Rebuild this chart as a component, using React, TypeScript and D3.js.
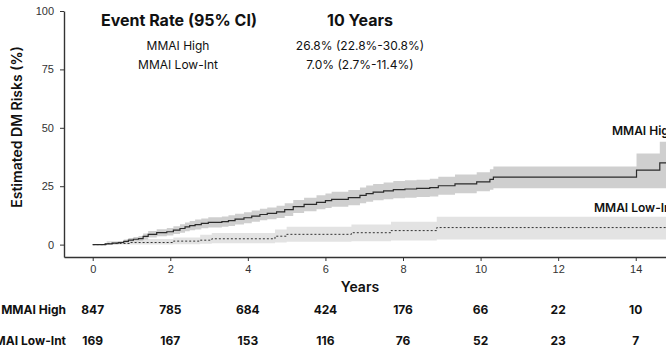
import React, { useEffect, useRef } from 'react';
import * as d3 from 'd3';

// Kaplan-Meier style cumulative incidence (percent)
const highTime = [0, 0.32, 0.5, 0.66, 0.8, 0.92, 1.05, 1.18, 1.3, 1.43, 1.65, 1.91, 2.08, 2.25, 2.38, 2.5, 2.64, 2.8, 2.98, 3.33, 3.5, 3.67, 3.9, 4.1, 4.31, 4.5, 4.74, 4.95, 5.17, 5.45, 5.77, 6.0, 6.16, 6.59, 6.89, 7.05, 7.23, 7.5, 7.75, 8.05, 8.35, 8.69, 8.91, 9.34, 9.9, 10.24, 10.33, 14.02, 14.62, 15.6];
const highEst = [0, 0.3, 0.6, 0.9, 1.4, 1.9, 2.3, 2.6, 3.5, 4.4, 5.1, 5.5, 6.2, 6.9, 7.6, 8.1, 8.6, 9.1, 9.5, 9.8, 10.3, 10.9, 11.5, 12.2, 12.9, 13.4, 14.0, 15.0, 16.3, 17.2, 18.1, 18.8, 19.4, 20.1, 21.1, 21.8, 22.5, 23.0, 23.5, 23.8, 24.1, 24.4, 25.2, 26.0, 26.9, 27.9, 28.9, 31.9, 35.0, 35.0];
const highLower = [0, 0, 0.1, 0.3, 0.6, 1.0, 1.3, 1.5, 2.2, 3.0, 3.6, 3.9, 4.5, 5.1, 5.7, 6.1, 6.5, 7.0, 7.3, 7.6, 8.0, 8.6, 9.1, 9.8, 10.4, 10.9, 11.4, 12.3, 13.5, 14.3, 15.1, 15.7, 16.2, 16.8, 17.7, 18.3, 19.0, 19.4, 19.8, 20.1, 20.4, 20.6, 21.3, 22.0, 22.8, 23.5, 24.1, 24.1, 24.1, 24.1];
const highUpper = [0, 0.7, 1.1, 1.5, 2.2, 2.8, 3.3, 3.7, 4.8, 5.8, 6.6, 7.1, 7.9, 8.7, 9.5, 10.1, 10.7, 11.2, 11.7, 12.0, 12.6, 13.2, 13.9, 14.6, 15.4, 15.9, 16.6, 17.7, 19.1, 20.1, 21.1, 21.9, 22.6, 23.4, 24.5, 25.3, 26.0, 26.6, 27.2, 27.5, 27.8, 28.2, 29.1, 30.0, 31.0, 32.3, 33.4, 39.0, 44.0, 44.0];

const lowTime = [0, 0.36, 0.96, 2.08, 2.77, 3.07, 4.7, 5.0, 6.67, 7.69, 8.87, 15.6];
const lowEst = [0, 0.5, 0.9, 1.5, 1.9, 2.5, 3.6, 4.4, 5.1, 6.0, 7.3, 7.3];
const lowLower = [0, 0, 0, 0.2, 0.4, 0.6, 0.9, 1.2, 1.4, 1.8, 2.2, 2.2];
const lowUpper = [0, 1.5, 2.4, 3.0, 4.2, 5.0, 6.5, 7.6, 8.6, 9.8, 11.9, 11.9];

const riskTimes = [0, 2, 4, 6, 8, 10, 12, 14];
const riskHigh = [847, 785, 684, 424, 176, 66, 22, 10];
const riskLow = [169, 167, 153, 116, 76, 52, 23, 7];

const yTicks = [0, 25, 50, 75, 100];
const xTicks = [0, 2, 4, 6, 8, 10, 12, 14];

const tableRows = [
  { group: 'MMAI High', rate: '26.8% (22.8%-30.8%)' },
  { group: 'MMAI Low-Int', rate: '7.0% (2.7%-11.4%)' },
];

const W = 666;
const H = 349;
const sansHead = 'Inter, "Open Sans", sans-serif';
const sansTick = '"Liberation Sans", Arial, sans-serif';

type Pt = { t: number; e: number; lo: number; hi: number };
const zipCurve = (t: number[], e: number[], lo: number[], hi: number[]): Pt[] =>
  t.map((d, i) => ({ t: d, e: e[i], lo: lo[i], hi: hi[i] }));

const App: React.FC = () => {
  const svgRef = useRef<SVGSVGElement>(null);

  useEffect(() => {
    if (svgRef.current === null) return;
    const svg = d3.select(svgRef.current);
    svg.selectAll('*').remove();

    const x = d3.scaleLinear().domain([-0.74, 14.78]).range([64, 666]);
    const y = d3.scaleLinear().domain([-5.3, 100]).range([257, 11]);

    const high = zipCurve(highTime, highEst, highLower, highUpper);
    const low = zipCurve(lowTime, lowEst, lowLower, lowUpper);

    const area = d3
      .area<Pt>()
      .curve(d3.curveStepAfter)
      .x((d) => x(d.t))
      .y0((d) => y(d.lo))
      .y1((d) => y(d.hi));
    const line = d3
      .line<Pt>()
      .curve(d3.curveStepAfter)
      .x((d) => x(d.t))
      .y((d) => y(d.e));

    // confidence bands
    svg.append('path').datum(low).attr('d', area).attr('fill', '#e3e3e3');
    svg.append('path').datum(high).attr('d', area).attr('fill', '#cfcfcf');

    // estimates
    svg
      .append('path')
      .datum(low)
      .attr('d', line)
      .attr('fill', 'none')
      .attr('stroke', '#333')
      .attr('stroke-width', 1)
      .attr('stroke-dasharray', '2,2');
    svg
      .append('path')
      .datum(high)
      .attr('d', line)
      .attr('fill', 'none')
      .attr('stroke', '#2b2b2b')
      .attr('stroke-width', 1.2);

    // axes
    const gx = svg
      .append('g')
      .attr('transform', `translate(0,${y(-5.3)})`)
      .call(d3.axisBottom(x).tickValues(xTicks).tickSize(4).tickSizeOuter(0).tickPadding(4));
    const gy = svg
      .append('g')
      .attr('transform', `translate(${x(-0.74)},0)`)
      .call(d3.axisLeft(y).tickValues(yTicks).tickSize(4).tickSizeOuter(0).tickPadding(6));
    [gx, gy].forEach((g) => {
      g.select('.domain').attr('stroke', '#333').attr('stroke-width', 1.4);
      g.selectAll('.tick line').attr('stroke', '#333');
      g.selectAll('.tick text')
        .attr('fill', '#333')
        .style('font-family', sansTick)
        .style('font-size', '11px');
    });

    // axis titles
    svg
      .append('text')
      .attr('x', 360)
      .attr('y', 292)
      .attr('text-anchor', 'middle')
      .style('font-family', sansHead)
      .style('font-weight', 600)
      .style('font-size', '14px')
      .attr('fill', '#111')
      .text('Years');
    svg
      .append('text')
      .attr('transform', 'translate(22,127) rotate(-90)')
      .attr('text-anchor', 'middle')
      .style('font-family', sansHead)
      .style('font-weight', 600)
      .style('font-size', '14px')
      .attr('fill', '#111')
      .text('Estimated DM Risks (%)');

    // curve labels
    const curveLabels = svg
      .append('g')
      .style('font-family', sansHead)
      .style('font-weight', 600)
      .style('font-size', '12px')
      .attr('fill', '#111');
    curveLabels.append('text').attr('x', 612).attr('y', 135).text('MMAI High');
    curveLabels.append('text').attr('x', 594).attr('y', 212).text('MMAI Low-Int');

    // event rate table
    const tbl = svg.append('g').style('font-family', sansHead).attr('fill', '#111');
    tbl
      .append('text')
      .attr('x', 179)
      .attr('y', 26)
      .attr('text-anchor', 'middle')
      .style('font-weight', 700)
      .style('font-size', '16px')
      .text('Event Rate (95% CI)');
    tbl
      .append('text')
      .attr('x', 360)
      .attr('y', 26)
      .attr('text-anchor', 'middle')
      .style('font-weight', 700)
      .style('font-size', '16px')
      .text('10 Years');
    tableRows.forEach((r, i) => {
      const yy = 50 + i * 19;
      tbl
        .append('text')
        .attr('x', 178)
        .attr('y', yy)
        .attr('text-anchor', 'middle')
        .style('font-size', '12px')
        .text(r.group);
      tbl
        .append('text')
        .attr('x', 360)
        .attr('y', yy)
        .attr('text-anchor', 'middle')
        .style('font-size', '12px')
        .text(r.rate);
    });

    // numbers at risk
    const risk = svg
      .append('g')
      .style('font-family', sansHead)
      .style('font-weight', 700)
      .style('font-size', '12px')
      .attr('fill', '#111');
    [
      { name: 'MMAI High', vals: riskHigh, yy: 314 },
      { name: 'MMAI Low-Int', vals: riskLow, yy: 345 },
    ].forEach((row) => {
      risk.append('text').attr('x', 66).attr('y', row.yy).attr('text-anchor', 'end').text(row.name);
      risk
        .selectAll(null)
        .data(row.vals)
        .join('text')
        .attr('x', (_, i) => x(riskTimes[i]))
        .attr('y', row.yy)
        .attr('text-anchor', 'middle')
        .text((d) => d);
    });
  }, []);

  return (
    <svg
      ref={svgRef}
      width={W}
      height={H}
      style={{ position: 'absolute', left: 0, top: 0, background: '#fff' }}
    ></svg>
  );
};

export default App;
